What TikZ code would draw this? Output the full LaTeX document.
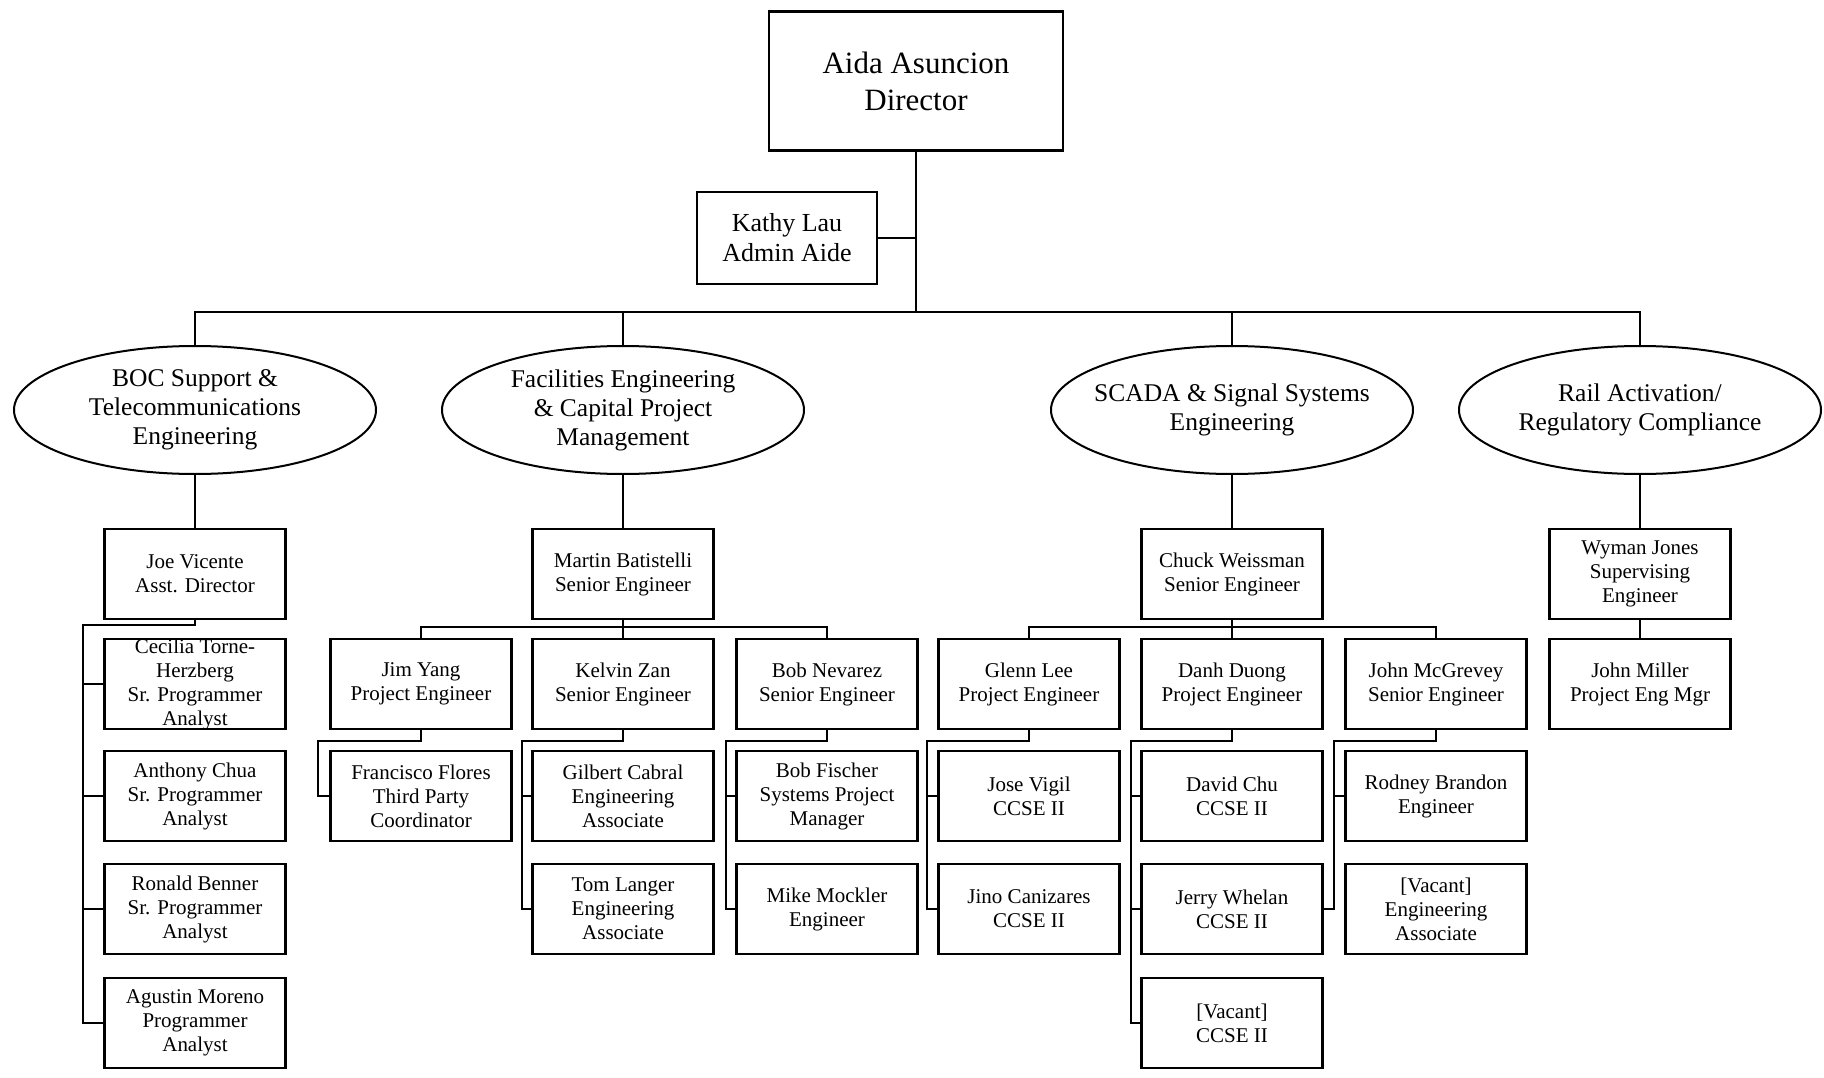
\documentclass[tikz,border=0pt]{standalone}
\usepackage{fontspec}
\setmainfont{Liberation Serif}
\usetikzlibrary{shapes.geometric}

\begin{document}
\begin{tikzpicture}[x=1pt, y=-1pt,
    box/.style={draw, line width=2.4pt, minimum width=181pt, minimum height=90pt,
        inner sep=1pt, align=center, font=\fontsize{21}{24}\selectfont},
    unit/.style={draw, ellipse, line width=2pt, minimum width=362pt, minimum height=128pt,
        inner xsep=-25pt, inner ysep=0pt, align=center, font=\fontsize{25.5}{29}\selectfont},
    wire/.style={line width=2pt}]

    % Frame
    \useasboundingbox (0,0) rectangle (1824,1078);

    % Director and admin aide
    \node[box, minimum width=294pt, minimum height=139pt, line width=2.6pt,
        font=\fontsize{31}{37}\selectfont] (dir) at (916,81) {Aida Asuncion\\Director};
    \node[box, minimum width=180pt, minimum height=92pt,
        font=\fontsize{26}{30}\selectfont] (aide) at (787,238) {Kathy Lau\\Admin Aide};

    % Divisions
    \node[unit] (boc) at (195,410) {BOC Support \&\\Telecommunications\\Engineering};
    \node[unit] (fac) at (623,410) {Facilities Engineering\\\& Capital Project\\Management};
    \node[unit] (scada) at (1232,410) {SCADA \& Signal Systems\\Engineering};
    \node[unit] (rail) at (1640,410) {Rail Activation/\\Regulatory Compliance};

    % Division leads
    \node[box] (joe) at (195,574) {Joe Vicente\\Asst. Director};
    \node[box] (martin) at (623,574) {Martin Batistelli\\Senior Engineer};
    \node[box] (chuck) at (1232,574) {Chuck Weissman\\Senior Engineer};
    \node[box] (wyman) at (1640,574) {Wyman Jones\\Supervising\\Engineer};

    % Row 4
    \node[box, inner ysep=-3pt] (cecilia) at (195,684) {Cecilia Torne-\\Herzberg\\Sr. Programmer\\Analyst};
    \node[box] (jim) at (421,684) {Jim Yang\\Project Engineer};
    \node[box] (kelvin) at (623,684) {Kelvin Zan\\Senior Engineer};
    \node[box] (nevarez) at (827,684) {Bob Nevarez\\Senior Engineer};
    \node[box] (glenn) at (1029,684) {Glenn Lee\\Project Engineer};
    \node[box] (danh) at (1232,684) {Danh Duong\\Project Engineer};
    \node[box] (mcgrevey) at (1436,684) {John McGrevey\\Senior Engineer};
    \node[box] (miller) at (1640,684) {John Miller\\Project Eng Mgr};

    % Row 5
    \node[box] (anthony) at (195,796) {Anthony Chua\\Sr. Programmer\\Analyst};
    \node[box] (francisco) at (421,796) {Francisco Flores\\Third Party\\Coordinator};
    \node[box] (gilbert) at (623,796) {Gilbert Cabral\\Engineering\\Associate};
    \node[box] (fischer) at (827,796) {Bob Fischer\\Systems Project\\Manager};
    \node[box] (jose) at (1029,796) {Jose Vigil\\CCSE II};
    \node[box] (david) at (1232,796) {David Chu\\CCSE II};
    \node[box] (rodney) at (1436,796) {Rodney Brandon\\Engineer};

    % Row 6
    \node[box] (ronald) at (195,909) {Ronald Benner\\Sr. Programmer\\Analyst};
    \node[box] (tom) at (623,909) {Tom Langer\\Engineering\\Associate};
    \node[box] (mockler) at (827,909) {Mike Mockler\\Engineer};
    \node[box] (jino) at (1029,909) {Jino Canizares\\CCSE II};
    \node[box] (jerry) at (1232,909) {Jerry Whelan\\CCSE II};
    \node[box] (vacantea) at (1436,909) {[Vacant]\\Engineering\\Associate};

    % Row 7
    \node[box] (agustin) at (195,1023) {Agustin Moreno\\Programmer\\Analyst};
    \node[box] (vacantcc) at (1232,1023) {[Vacant]\\CCSE II};

    % Director to divisions
    \coordinate (hub) at (916,312);
    \draw[wire] (dir.south) -- (hub);
    \draw[wire] (aide.east) -- (aide.east -| hub);
    \draw[wire] (boc.north) |- (hub) -| (rail.north);
    \draw[wire] (fac.north) -- (fac.north |- hub);
    \draw[wire] (scada.north) -- (scada.north |- hub);

    % Divisions to leads
    \draw[wire] (boc) -- (joe);
    \draw[wire] (fac) -- (martin);
    \draw[wire] (scada) -- (chuck);
    \draw[wire] (rail) -- (wyman);

    % Joe's staff
    \coordinate (joebus) at (83,625);
    \draw[wire] (joe.south) |- (joebus) |- (agustin.west);
    \draw[wire] (joebus |- cecilia) -- (cecilia.west);
    \draw[wire] (joebus |- anthony) -- (anthony.west);
    \draw[wire] (joebus |- ronald) -- (ronald.west);

    % Martin's staff
    \coordinate (martinbus) at (623,627);
    \draw[wire] (martin.south) -- (martinbus);
    \draw[wire] (jim.north) |- (martinbus) -| (nevarez.north);
    \draw[wire] (kelvin.north) -- (martinbus);

    % Chuck's staff
    \coordinate (chuckbus) at (1232,627);
    \draw[wire] (chuck.south) -- (chuckbus);
    \draw[wire] (glenn.north) |- (chuckbus) -| (mcgrevey.north);
    \draw[wire] (danh.north) -- (chuckbus);

    % Wyman's staff
    \draw[wire] (wyman) -- (miller);

    % Second level staff
    \coordinate (jimbus) at (318,741);
    \draw[wire] (jim.south) |- (jimbus) |- (francisco.west);

    \coordinate (kelvinbus) at (522,741);
    \draw[wire] (kelvin.south) |- (kelvinbus) |- (tom.west);
    \draw[wire] (kelvinbus |- gilbert) -- (gilbert.west);

    \coordinate (nevarezbus) at (726,741);
    \draw[wire] (nevarez.south) |- (nevarezbus) |- (mockler.west);
    \draw[wire] (nevarezbus |- fischer) -- (fischer.west);

    \coordinate (glennbus) at (927,741);
    \draw[wire] (glenn.south) |- (glennbus) |- (jino.west);
    \draw[wire] (glennbus |- jose) -- (jose.west);

    \coordinate (danhbus) at (1131,741);
    \draw[wire] (danh.south) |- (danhbus) |- (vacantcc.west);
    \draw[wire] (danhbus |- david) -- (david.west);
    \draw[wire] (danhbus |- jerry) -- (jerry.west);

    \coordinate (mcgbus) at (1334,741);
    \draw[wire] (mcgrevey.south) |- (mcgbus) |- (jerry.east);
    \draw[wire] (mcgbus |- rodney) -- (rodney.west);
\end{tikzpicture}
\end{document}
